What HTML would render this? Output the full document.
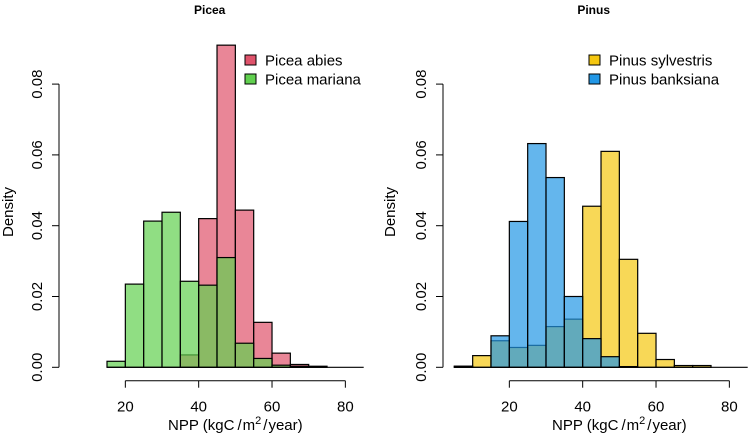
<!DOCTYPE html>
<html><head><meta charset="utf-8"><style>
body{margin:0;background:#fff}
svg{display:block;font-family:"Liberation Sans",Arial,sans-serif}
</style></head><body>
<svg id="chart" width="756" height="436" viewBox="0 0 756 436"></svg>
<script>
const binStarts = [5,10,15,20,25,30,35,40,45,50,55,60,65,70,75,80];
const abiesDensity =      [0,0,0,0,0,0,0.0035,0.042,0.091,0.0444,0.0127,0.004,0.0008,0.0003,0,0];
const marianaDensity =    [0,0,0.0017,0.0235,0.0413,0.0438,0.0243,0.0232,0.031,0.0068,0.0025,0.0006,0.0003,0,0,0];
const sylvestrisDensity = [0.0003,0.0033,0.0075,0.0056,0.0062,0.0115,0.0136,0.0455,0.061,0.0305,0.0096,0.0022,0.0005,0.0005,0,0];
const banksianaDensity =  [0.0003,0,0.0089,0.0412,0.0632,0.0536,0.02,0.0081,0.003,0.0002,0,0,0,0,0,0];
const xTicks = [20,40,60,80];
const yTicks = [0,0.02,0.04,0.06,0.08];
const binWidth = 5;

const svg = document.getElementById('chart');
const NS = 'http://www.w3.org/2000/svg';
function mk(tag, attrs, parent){const e=document.createElementNS(NS,tag);for(const k in attrs)e.setAttribute(k,attrs[k]);(parent||svg).appendChild(e);return e;}
const yBase = 367.3, yPerUnit = 3540;
function yScale(v){return yBase - v*yPerUnit;}

function panel(opts){
  const x0 = opts.x0, ppu = 3.667;
  const xs = v => x0 + v*ppu;
  const g = mk('g',{});
  
  
  opts.series.forEach(s=>{
    const sg = mk('g',{},g);
    
    
    let minI=-1,maxI=-1;
    binStarts.forEach((b,i)=>{
      if(s.data[i]>0){if(minI<0)minI=i;maxI=i;}
    });
    binStarts.forEach((b,i)=>{
      if(i<minI||i>maxI) return;
      const v=s.data[i];
      const r = mk('rect',{x:xs(b),y:yScale(v),width:binWidth*ppu,height:yBase-yScale(v),fill:s.color,'fill-opacity':0.7,stroke:'#000','stroke-width':1.2},sg);
      
      
    });
  });
  // baseline
  const bl = mk('line',{x1:xs(opts.baseFrom),x2:xs(85),y1:yBase,y2:yBase,stroke:'#000','stroke-width':1.2},g);
  
  
  // x axis
  const xa = mk('g',{},g);
  
  
  const ay = 380.7;
  mk('line',{x1:xs(xTicks[0]),x2:xs(xTicks[xTicks.length-1]),y1:ay,y2:ay,stroke:'#000'},xa);
  xTicks.forEach(t=>{
    mk('line',{x1:xs(t),x2:xs(t),y1:ay,y2:ay+7,stroke:'#000'},xa);
    const tx = mk('text',{x:xs(t),y:ay+31,'text-anchor':'middle','font-size':15},xa);
    tx.textContent=t;
  });
  const xt = mk('text',{x:xs(50),y:430,'text-anchor':'middle','font-size':15},g);
  
  
  xt.innerHTML='NPP (kgC<tspan dx="3">/</tspan><tspan dx="1">m</tspan><tspan dy="-6" font-size="11">2</tspan><tspan dy="6" dx="2">/</tspan><tspan dx="1">year)</tspan>';
  // y axis
  const ya = mk('g',{},g);
  
  
  const axX = opts.yAxisX;
  mk('line',{x1:axX,x2:axX,y1:yScale(yTicks[0]),y2:yScale(yTicks[yTicks.length-1]),stroke:'#000'},ya);
  yTicks.forEach(t=>{
    const y=yScale(t);
    mk('line',{x1:axX-7,x2:axX,y1:y,y2:y,stroke:'#000'},ya);
    const tx=mk('text',{x:axX-17,y:y,'text-anchor':'middle','font-size':15,transform:`rotate(-90 ${axX-17} ${y})`},ya);
    tx.textContent=t.toFixed(2);
  });
  const yt=mk('text',{x:opts.yTitleX,y:212,'text-anchor':'middle','font-size':15,transform:`rotate(-90 ${opts.yTitleX} 212)`},g);
  yt.textContent='Density';
  
  
  const ti=mk('text',{x:xs(43),y:14,'text-anchor':'middle','font-size':12,'font-weight':'bold'},g);
  ti.textContent=opts.title;
  
  
  // legend
  const lg=mk('g',{},g);
  
  
  opts.series.forEach((s,i)=>{
    const y=60+i*19;
    const e=mk('g',{},lg);
    
    
    mk('rect',{x:opts.legendX,y:y-5,width:11,height:10,fill:s.solid,stroke:'#000'},e);
    const t=mk('text',{x:opts.legendX+20,y:y+5.5,'font-size':15},e);
    t.textContent=s.label;
  });
}
panel({name:'picea',title:'Picea',x0:52,yAxisX:59,yTitleX:13,baseFrom:15,legendX:245,series:[
  {name:'picea-abies',label:'Picea abies',data:abiesDensity,color:'#DF536B',solid:'#DF536B'},
  {name:'picea-mariana',label:'Picea mariana',data:marianaDensity,color:'#61D04F',solid:'#61D04F'}]});
panel({name:'pinus',title:'Pinus',x0:436,yAxisX:443,yTitleX:395,baseFrom:5,legendX:589,series:[
  {name:'pinus-sylvestris',label:'Pinus sylvestris',data:sylvestrisDensity,color:'#F5C710',solid:'#F5C710'},
  {name:'pinus-banksiana',label:'Pinus banksiana',data:banksianaDensity,color:'#2297E6',solid:'#2297E6'}]});
</script>
</body></html>
